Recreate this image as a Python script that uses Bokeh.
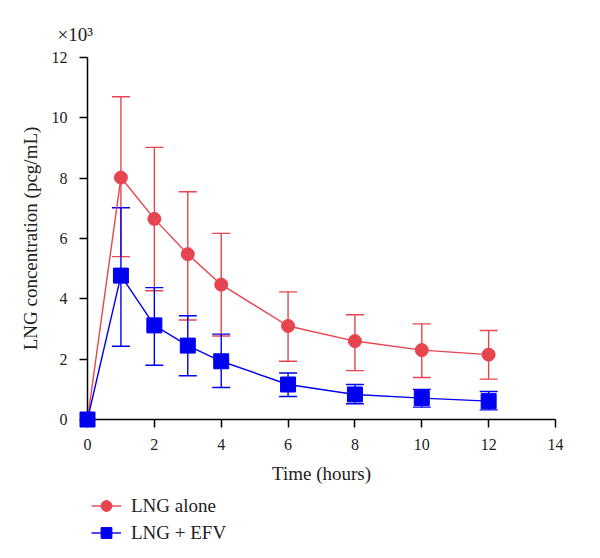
from bokeh.plotting import figure
from bokeh.layouts import column
from bokeh.models import (ColumnDataSource, Range1d, LinearAxis, FixedTicker, Whisker, TeeHead,
                          Legend, LegendItem, Title)
from bokeh.embed import file_html
from bokeh.resources import INLINE

# ---- data (concentrations in x10^3 pcg/mL) ----
time = [0, 1, 2, 3, 4, 6, 8, 10, 12]
lng_alone = [0.0, 8.02, 6.65, 5.48, 4.47, 3.10, 2.60, 2.30, 2.15]
lng_efv = [0.0, 4.77, 3.12, 2.45, 1.93, 1.16, 0.83, 0.71, 0.61]

err_time = [1, 2, 3, 4, 6, 8, 10, 12]
lng_alone_upper = [10.70, 9.02, 7.55, 6.17, 4.23, 3.47, 3.17, 2.95]
lng_alone_lower = [5.40, 4.27, 3.30, 2.77, 1.93, 1.62, 1.39, 1.34]
lng_efv_upper = [7.02, 4.37, 3.44, 2.83, 1.54, 1.16, 1.00, 0.93]
lng_efv_lower = [2.43, 1.80, 1.45, 1.06, 0.76, 0.52, 0.41, 0.32]

x_ticks = [0, 2, 4, 6, 8, 10, 12, 14]
y_ticks = [0, 2, 4, 6, 8, 10, 12]
series_names = ["LNG alone", "LNG + EFV"]

RED = "#E6444F"
BLUE = "#0000F0"
FONT = "Liberation Serif"
TXT = "#222222"

p = figure(frame_width=468, frame_height=362, output_backend="svg", toolbar_location=None,
           x_range=Range1d(0, 14), y_range=Range1d(0, 12),
           x_axis_type=None, y_axis_type=None,
           min_border_left=87, min_border_right=37, min_border_top=57, min_border_bottom=76)
p.grid.visible = False
p.outline_line_color = None
p.background_fill_color = "white"

xaxis = LinearAxis(ticker=FixedTicker(ticks=x_ticks), axis_label="Time (hours)")
yaxis = LinearAxis(ticker=FixedTicker(ticks=y_ticks), axis_label="LNG concentration (pcg/mL)")
for ax in (xaxis, yaxis):
    ax.axis_line_color = "black"
    ax.axis_line_width = 1.5
    ax.major_tick_line_color = "black"
    ax.major_tick_line_width = 1.5
    ax.major_tick_in = 0
    ax.major_tick_out = 8
    ax.minor_tick_line_color = None
    ax.major_label_text_font = FONT
    ax.major_label_text_font_size = "16px"
    ax.major_label_text_color = TXT
    ax.axis_label_text_font = FONT
    ax.axis_label_text_font_size = "19px"
    ax.axis_label_text_font_style = "normal"
    ax.axis_label_text_color = TXT
xaxis.major_label_standoff = 11
xaxis.axis_label_standoff = 10
yaxis.major_label_standoff = 12
yaxis.axis_label_standoff = 8
p.add_layout(xaxis, "below")
p.add_layout(yaxis, "left")

src_r = ColumnDataSource(dict(t=time, y=lng_alone))
src_b = ColumnDataSource(dict(t=time, y=lng_efv))
err_r = ColumnDataSource(dict(t=err_time, up=lng_alone_upper, lo=lng_alone_lower))
err_b = ColumnDataSource(dict(t=err_time, up=lng_efv_upper, lo=lng_efv_lower))

w_r = Whisker(base="t", upper="up", lower="lo", source=err_r, line_color=RED, line_width=1.4,
              upper_head=TeeHead(size=18, line_color=RED, line_width=1.4),
              lower_head=TeeHead(size=18, line_color=RED, line_width=1.4))
w_b = Whisker(base="t", upper="up", lower="lo", source=err_b, line_color=BLUE, line_width=1.4,
              upper_head=TeeHead(size=18, line_color=BLUE, line_width=1.4),
              lower_head=TeeHead(size=18, line_color=BLUE, line_width=1.4))
p.add_layout(w_r)
p.add_layout(w_b)

# "overlay" level keeps the origin marker from being clipped at the frame corner
lr = p.line("t", "y", source=src_r, line_color=RED, line_width=1.4, level="overlay")
mr = p.scatter("t", "y", source=src_r, marker="circle", size=13, fill_color=RED, line_color=RED,
               level="overlay")
lb = p.line("t", "y", source=src_b, line_color=BLUE, line_width=1.4, level="overlay")
mb = p.scatter("t", "y", source=src_b, marker="square", size=15, fill_color=BLUE, line_color=BLUE,
               level="overlay")

p.add_layout(Title(text="×10³", align="left", offset=-30, standoff=25, text_font=FONT,
                   text_font_size="19px", text_font_style="normal", text_color=TXT), "above")

# ---- legend strip below the chart (its series sit outside its view, only the key shows) ----
leg = figure(width=592, height=60, output_backend="svg", toolbar_location=None,
             x_range=Range1d(1000, 1500), y_range=Range1d(1000, 1060),
             x_axis_type=None, y_axis_type=None, min_border=0)
leg.grid.visible = False
leg.outline_line_color = None
g_lr = leg.line("t", "y", source=src_r, line_color=RED, line_width=1.4)
g_mr = leg.scatter("t", "y", source=src_r, marker="circle", size=12, fill_color=RED, line_color=RED)
g_lb = leg.line("t", "y", source=src_b, line_color=BLUE, line_width=1.4)
g_mb = leg.scatter("t", "y", source=src_b, marker="square", size=14, fill_color=BLUE,
                   line_color=BLUE)

legend = Legend(items=[LegendItem(label=series_names[0], renderers=[g_lr, g_mr]),
                       LegendItem(label=series_names[1], renderers=[g_lb, g_mb])],
                location=(4, 9), orientation="vertical",
                glyph_width=30, glyph_height=27, label_height=20, label_standoff=10,
                spacing=0, padding=0, margin=0,
                border_line_color=None, background_fill_alpha=0,
                label_text_font=FONT, label_text_font_size="19px", label_text_color=TXT)
leg.add_layout(legend, "center")

layout = column(p, leg, spacing=0)
open("out.html", "w").write(file_html(layout, INLINE))
